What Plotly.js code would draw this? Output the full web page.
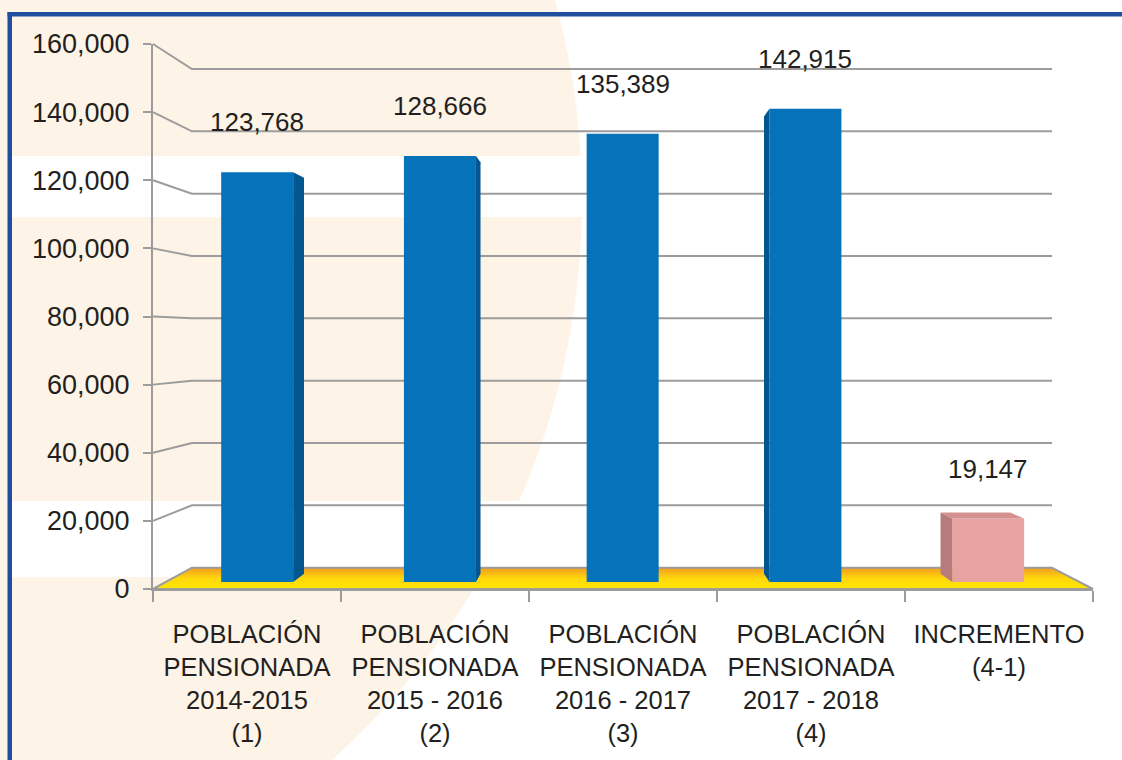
<!DOCTYPE html>
<html lang="es">
<head>
    <meta charset="UTF-8">
    <title>Población pensionada</title>
    <script src="https://cdn.plot.ly/plotly-3.0.1.min.js"></script>
    <style>
        html, body { margin: 0; padding: 0; background: #ffffff; }
        #chart { width: 1122px; height: 760px; }
    </style>
</head>
<body>
    <div id="chart"></div>
    <script>
        // datos de la gráfica
        const categories = [
            'POBLACIÓN<br>PENSIONADA<br>2014-2015<br>(1)',
            'POBLACIÓN<br>PENSIONADA<br>2015 - 2016<br>(2)',
            'POBLACIÓN<br>PENSIONADA<br>2016 - 2017<br>(3)',
            'POBLACIÓN<br>PENSIONADA<br>2017 - 2018<br>(4)',
            'INCREMENTO<br>(4-1)'
        ];
        const values = [123768, 128666, 135389, 142915, 19147];
        const yTicks = [0, 20000, 40000, 60000, 80000, 100000, 120000, 140000, 160000];

        const W = 1122, H = 760;
        const textColor = '#231f20';
        const grey = '#9c9c9c';
        const frontColors = ['#0572b9', '#0572b9', '#0572b9', '#0572b9', '#e7a3a1'];
        const sideColors = ['#04568f', '#04568f', '#04568f', '#04568f', '#b67c7b'];
        const topColors = ['#0566a6', '#0566a6', '#0566a6', '#0566a6', '#d4918f'];

        // geometría del falso 3D (plano frontal, punto de fuga, profundidades)
        const front = { x0: 153, x1: 1093, y0: 589, y1: 44, vmax: 160000 };
        const vp = { x: 611, y: 338 };
        const sWall = 0.915, sBar = 0.972, sBarBack = 0.966;
        const barPx = 72;

        function frontY(v) {
            return front.y0 - (front.y0 - front.y1) * v / front.vmax;
        }
        function persp(px, py, s) {
            return [vp.x + (px - vp.x) * s, vp.y + (py - vp.y) * s];
        }
        function barY(v) {
            return vp.y + (frontY(v) - vp.y) * sBar;
        }

        const catW = (front.x1 - front.x0) / categories.length;
        const a = vp.x + (front.x0 + catW / 2 - vp.x) * sBar;
        const b = catW * sBar;
        const A = barY(0);
        const B = (barY(0) - barY(100000)) / 100000;

        const shapes = [];
        // fondo: círculo crema, franjas blancas y marco azul
        shapes.push({ type: 'circle', xref: 'x', yref: 'y', x0: -922, x1: 582, y0: -552, y1: 952,
            fillcolor: '#fdf3e6', line: { width: 0 }, layer: 'below' });
        shapes.push({ type: 'rect', xref: 'x', yref: 'y', x0: 12, x1: 700, y0: 156, y1: 217,
            fillcolor: '#ffffff', line: { width: 0 }, layer: 'below' });
        shapes.push({ type: 'rect', xref: 'x', yref: 'y', x0: 12, x1: 700, y0: 501, y1: 577,
            fillcolor: '#ffffff', line: { width: 0 }, layer: 'below' });
        shapes.push({ type: 'rect', xref: 'x', yref: 'y', x0: 7.5, x1: 12, y0: 12, y1: H,
            fillcolor: '#1f4e9f', line: { width: 0 }, layer: 'below' });
        shapes.push({ type: 'rect', xref: 'x', yref: 'y', x0: 7.5, x1: W, y0: 12, y1: 16.5,
            fillcolor: '#1f4e9f', line: { width: 0 }, layer: 'below' });

        // líneas de cuadrícula: diagonal hacia la pared del fondo y horizontal
        yTicks.forEach(t => {
            if (t === 0) return;
            const f = frontY(t);
            const p1 = persp(front.x0, f, sWall);
            const p2 = persp(front.x1, f, sWall);
            shapes.push({ type: 'path', xref: 'x', yref: 'y', layer: 'below',
                path: `M${front.x0},${f} L${p1[0]},${p1[1]} L${p2[0]},${p2[1]}`,
                line: { color: grey, width: 2 } });
        });

        // caras laterales y superiores de las barras
        function poly(pts) {
            return 'M' + pts.map(p => p[0] + ',' + p[1]).join(' L') + ' Z';
        }
        values.forEach((v, i) => {
            const cx = a + b * i;
            const L = cx - barPx / 2, R = cx + barPx / 2;
            const T = barY(v), Bt = barY(0);
            const back = (x, y) => persp(x, y, sBarBack);
            if (T > vp.y) {
                shapes.push({ type: 'path', xref: 'x', yref: 'y', layer: 'above',
                    path: poly([[L, T], [R, T], back(R, T), back(L, T)]),
                    fillcolor: topColors[i], line: { width: 0 } });
            }
            if (R < vp.x) {
                shapes.push({ type: 'path', xref: 'x', yref: 'y', layer: 'above',
                    path: poly([[R, T], back(R, T), back(R, Bt), [R, Bt]]),
                    fillcolor: sideColors[i], line: { width: 0 } });
            }
            if (L > vp.x) {
                shapes.push({ type: 'path', xref: 'x', yref: 'y', layer: 'above',
                    path: poly([[L, T], back(L, T), back(L, Bt), [L, Bt]]),
                    fillcolor: sideColors[i], line: { width: 0 } });
            }
        });

        // piso amarillo (naranja al fondo, amarillo al frente)
        const f0 = frontY(0);
        const fl = persp(front.x0, f0, sWall);
        const fr = persp(front.x1, f0, sWall);
        const floor = {
            type: 'scatter', xaxis: 'x', yaxis: 'y',
            x: [front.x0, fl[0], fr[0], front.x1, front.x0],
            y: [f0, fl[1], fr[1], f0, f0],
            mode: 'lines', fill: 'toself',
            fillgradient: { type: 'vertical',
                colorscale: [[0, '#ffe600'], [0.5, '#ffd80c'], [1, '#f39a1f']] },
            line: { color: grey, width: 2 },
            hoverinfo: 'skip', showlegend: false
        };

        const bars = {
            type: 'bar', xaxis: 'x2', yaxis: 'y2',
            x: values.map((v, i) => i),
            y: values,
            width: barPx / b,
            marker: { color: frontColors, line: { width: 0 } },
            hoverinfo: 'skip', showlegend: false
        };

        const frontAxisTrace = {
            type: 'scatter', xaxis: 'x3', yaxis: 'y3',
            x: categories, y: values, mode: 'markers',
            marker: { opacity: 0 }, hoverinfo: 'skip', showlegend: false
        };

        const annotations = values.map((v, i) => ({
            xref: 'x2', yref: 'y2', x: i, y: v,
            text: v.toLocaleString('en-US'),
            showarrow: false, yanchor: 'bottom', yshift: 33,
            font: { size: 26, color: textColor }
        }));

        const layout = {
            width: W, height: H,
            margin: { l: 0, r: 0, t: 0, b: 0 },
            paper_bgcolor: '#ffffff',
            plot_bgcolor: 'rgba(0,0,0,0)',
            font: { family: 'Liberation Sans, Arial, sans-serif', color: textColor },
            showlegend: false,
            xaxis: { domain: [0, 1], range: [0, W], visible: false, fixedrange: true },
            yaxis: { domain: [0, 1], range: [H, 0], visible: false, fixedrange: true },
            xaxis2: { overlaying: 'x', range: [(0 - a) / b, (W - a) / b], visible: false, fixedrange: true },
            yaxis2: { overlaying: 'y', range: [(A - H) / B, A / B], visible: false, fixedrange: true },
            xaxis3: {
                domain: [front.x0 / W, front.x1 / W], anchor: 'y3',
                type: 'category', categoryorder: 'array', categoryarray: categories,
                range: [-0.5, categories.length - 0.5],
                tickson: 'boundaries', ticks: 'outside', ticklen: 11, tickwidth: 2, tickcolor: grey,
                showline: true, linecolor: grey, linewidth: 2, showgrid: false, zeroline: false,
                tickfont: { size: 25.5, color: textColor }, ticklabelstandoff: 21, fixedrange: true
            },
            yaxis3: {
                domain: [(H - front.y0) / H, (H - front.y1) / H], anchor: 'x3',
                range: [0, front.vmax], tickvals: yTicks, tickformat: ',d',
                ticks: 'outside', ticklen: 8, tickwidth: 2, tickcolor: grey,
                showline: true, linecolor: grey, linewidth: 2, showgrid: false, zeroline: false,
                tickfont: { size: 27, color: textColor }, ticklabelstandoff: 8, fixedrange: true
            },
            shapes: shapes,
            annotations: annotations
        };

        Plotly.newPlot('chart', [floor, bars, frontAxisTrace], layout, { displayModeBar: false, staticPlot: true });
    </script>
</body>
</html>
